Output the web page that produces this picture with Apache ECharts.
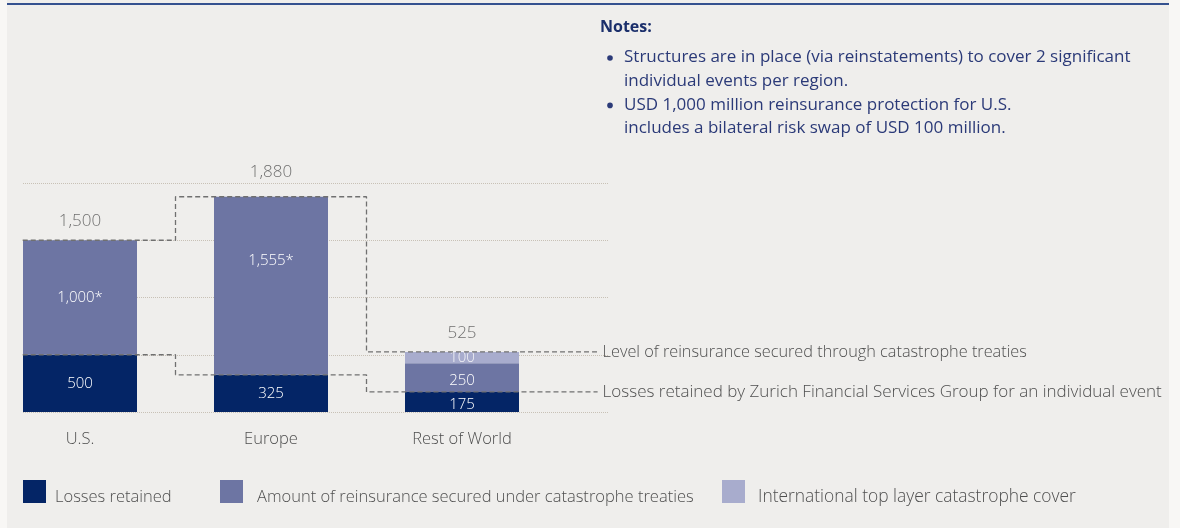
<!DOCTYPE html>
<html>
<head>
<meta charset="utf-8">
<script src="https://cdn.jsdelivr.net/npm/echarts@6/dist/echarts.min.js"></script>
<style>
  html, body { margin: 0; padding: 0; background: #f8f7f5; }
  #chart { width: 1180px; height: 528px; }
</style>
</head>
<body>
<div id="chart"></div>
<script>
const categories = ['U.S.', 'Europe', 'Rest of World'];
const lossesRetained = [500, 325, 175];
const reinsuranceSecured = [1000, 1555, 250];
const topLayerCover = [null, null, 100];
const totalCover = [1500, 1880, 525];
const reinsuranceMark = ['*', '*', ''];

const seriesNames = [
  'Losses retained',
  'Amount of reinsurance secured under catastrophe treaties',
  'International top layer catastrophe cover'
];
const lineNames = [
  'Level of reinsurance secured through catastrophe treaties',
  'Losses retained by Zurich Financial Services Group for an individual event'
];
const notes = [
  ['Structures are in place (via reinstatements) to cover 2 significant', 'individual events per region.'],
  ['USD 1,000 million reinsurance protection for U.S.', 'includes a bilateral risk swap of USD 100 million.']
];

const colors = ['#042566', '#6d75a3', '#a8accd'];
const grey = '#4f4f4f';
const font = 'Open Sans';
const light = 300;

// line x range (in category units): from the left edge of the first bar to the labels
const lineMin = -0.3;
const lineMax = 2.71;
function stepLine(values) {
  const pts = values.map((v, i) => [i, v]);
  return [[lineMin, values[0]], ...pts, [lineMax, values[values.length - 1]]];
}

const fmt = (v) => v.toLocaleString('en-US');

// notes block
const noteEls = [{
  type: 'text', left: 600, top: 19,
  style: { text: 'Notes:', font: 'bold 16px ' + font, fill: '#1b2f6b' }
}];
let ny = 49;
notes.forEach((lines) => {
  noteEls.push({ type: 'circle', shape: { cx: 610, cy: ny + 9, r: 2.8 }, style: { fill: '#2b3a78' } });
  lines.forEach((t) => {
    noteEls.push({ type: 'text', left: 624, top: ny, style: { text: t, font: '17px ' + font, fill: '#2b3a78' } });
    ny += 23.7;
  });
});

const chart = echarts.init(document.getElementById('chart'));

chart.setOption({
  animation: false,
  backgroundColor: '#efeeec',
  textStyle: { fontFamily: font, fontWeight: light },
  graphic: [
    { type: 'rect', left: 0, top: 0, shape: { width: 7, height: 528 }, style: { fill: '#f8f7f5' } },
    { type: 'rect', left: 1169, top: 0, shape: { width: 11, height: 528 }, style: { fill: '#f8f7f5' } },
    { type: 'rect', left: 7, top: 3, shape: { width: 1162, height: 2 }, style: { fill: '#34518f' } },
    ...noteEls
  ],
  legend: [0, 1, 2].map((i) => ({
    data: [seriesNames[i]],
    left: [23, 220, 722][i],
    top: 480,
    padding: 0,
    itemWidth: 23,
    itemHeight: 23,
    icon: 'rect',
    formatter: (n) => '{t|' + n + '}',
    textStyle: {
      rich: {
        t: {
          fontSize: [16.5, 16.5, 17.4][i], color: grey, fontFamily: font, fontWeight: light,
          padding: [12, 0, 0, [4, 9, 8][i]]
        }
      }
    }
  })),
  grid: [
    { left: 80, right: 718, top: 183, height: 229 },
    { left: 23, width: 585, top: 183, height: 229 },
    { left: 80 + lineMin * 191, width: (lineMax - lineMin) * 191, top: 183, height: 229 }
  ],
  xAxis: [
    {
      type: 'category', gridIndex: 0, data: categories, boundaryGap: false,
      axisLine: { show: false }, axisTick: { show: false },
      axisLabel: { color: grey, fontSize: 16.5, margin: 19, fontFamily: font, fontWeight: light }
    },
    { type: 'value', gridIndex: 1, show: false },
    { type: 'value', gridIndex: 2, min: lineMin, max: lineMax, show: false }
  ],
  yAxis: [
    { type: 'value', gridIndex: 0, min: 0, max: 2000, show: false },
    {
      type: 'value', gridIndex: 1, min: 0, max: 2000, interval: 500,
      axisLine: { show: false }, axisTick: { show: false }, axisLabel: { show: false },
      splitLine: { lineStyle: { color: '#c8c1b6', type: [1, 1], width: 1 } }
    },
    { type: 'value', gridIndex: 2, min: 0, max: 2000, show: false }
  ],
  series: [
    {
      name: seriesNames[0], type: 'bar', stack: 'cover', barWidth: 114, clip: false,
      xAxisIndex: 0, yAxisIndex: 0,
      itemStyle: { color: colors[0] },
      data: lossesRetained.map((v, i) => i === 2 ? { value: v, label: { offset: [0, 3] } } : v),
      label: { show: true, position: 'inside', color: '#fff', fontSize: 15, formatter: (p) => fmt(p.value) }
    },
    {
      name: seriesNames[1], type: 'bar', stack: 'cover', barWidth: 114, clip: false,
      xAxisIndex: 0, yAxisIndex: 0,
      itemStyle: { color: colors[1] },
      data: reinsuranceSecured.map((v, i) => i === 1 ? { value: v, label: { offset: [0, -25] } } :
        i === 2 ? { value: v, label: { offset: [0, 3] } } : v),
      label: {
        show: true, position: 'inside', color: '#fff', fontSize: 15,
        formatter: (p) => fmt(p.value) + reinsuranceMark[p.dataIndex]
      }
    },
    {
      name: seriesNames[2], type: 'bar', stack: 'cover', barWidth: 114, clip: false,
      xAxisIndex: 0, yAxisIndex: 0,
      itemStyle: { color: colors[2] },
      data: topLayerCover,
      label: { show: true, position: 'inside', color: '#f4f4f8', fontSize: 15, formatter: (p) => fmt(p.value) }
    },
    {
      type: 'scatter', xAxisIndex: 0, yAxisIndex: 0, clip: false,
      symbolSize: 1, itemStyle: { color: 'transparent' },
      data: totalCover.map((v, i) => i === 1 ? { value: v, label: { distance: 16 } } : v),
      label: { show: true, position: 'top', distance: 10, color: grey, fontSize: 17, formatter: (p) => fmt(p.value) }
    },
    ...[totalCover, lossesRetained].map((vals, k) => ({
      name: lineNames[k], type: 'line', step: 'middle', xAxisIndex: 2, yAxisIndex: 2,
      symbol: 'none', z: 5,
      lineStyle: { color: '#707070', width: 1.3, type: [5, 3] },
      data: stepLine(vals),
      endLabel: {
        show: true, distance: 5, color: grey, fontSize: k === 0 ? 16.3 : 17,
        fontFamily: font, fontWeight: light,
        formatter: (p) => p.seriesName
      }
    }))
  ]
});
</script>
</body>
</html>
